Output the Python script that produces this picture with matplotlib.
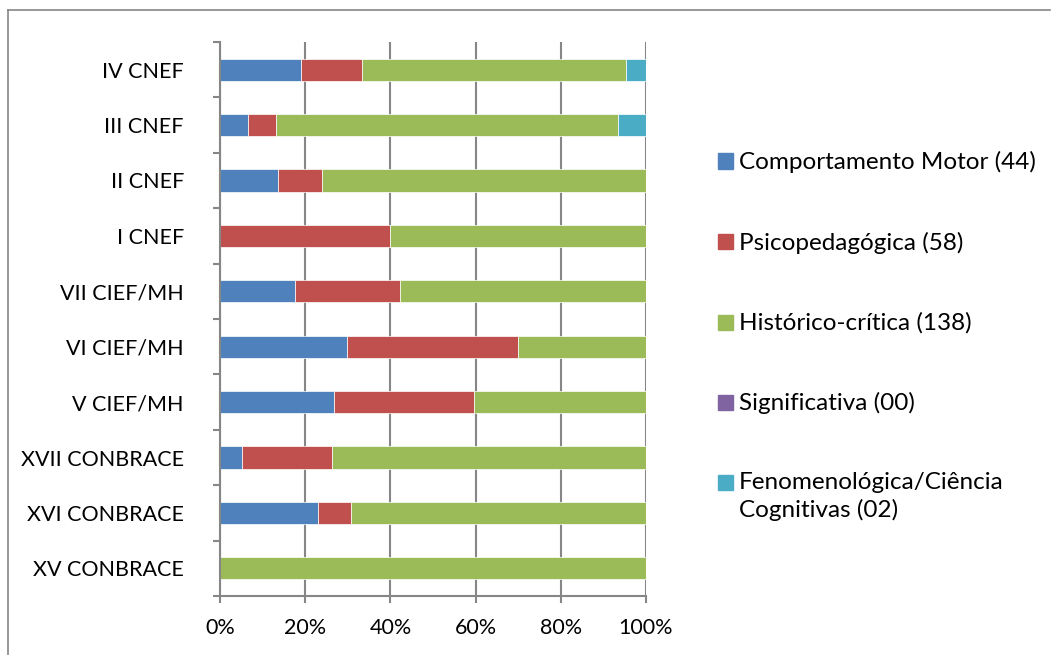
import matplotlib.pyplot as plt
from matplotlib.patches import Rectangle
from matplotlib.lines import Line2D
import numpy as np

plt.rcParams['font.family'] = ['Lato', 'DejaVu Sans']

# ── DATA (percent of works per event) ─────────────────────────────────────────
EVENTS = ['XV CONBRACE', 'XVI CONBRACE', 'XVII CONBRACE', 'V CIEF/MH',
          'VI CIEF/MH', 'VII CIEF/MH', 'I CNEF', 'II CNEF', 'III CNEF', 'IV CNEF']
MOTOR = [0.0, 23.0, 5.1, 26.8, 29.8, 17.7, 0.0, 13.7, 6.5, 18.9]
PSICO = [0.0, 7.7, 21.1, 32.8, 40.2, 24.5, 40.0, 10.3, 6.6, 14.4]
HIST = [100.0, 69.3, 73.8, 40.4, 30.0, 57.8, 60.0, 76.0, 80.3, 62.0]
SIGNIF = [0.0] * 10
FENOM = [0.0, 0.0, 0.0, 0.0, 0.0, 0.0, 0.0, 0.0, 6.6, 4.7]

SERIES = [
    ('Comportamento Motor (44)', MOTOR, '#4F81BD'),
    ('Psicopedagógica (58)', PSICO, '#C0504D'),
    ('Histórico-crítica (138)', HIST, '#9BBB59'),
    ('Significativa (00)', SIGNIF, '#8064A2'),
    ('Fenomenológica/Ciência\nCognitivas (02)', FENOM, '#4BACC6'),
]
XTICKS = [0, 20, 40, 60, 80, 100]
# ─────────────────────────────────────────────────────────────────────────────

W, H = 1057, 655
GRAY = '#868686'
fig = plt.figure(figsize=(W / 100, H / 100), dpi=100)
ax = fig.add_axes([220 / W, 1 - 596 / H, 426 / W, 554 / H])

y = np.arange(len(EVENTS))
left = np.zeros(len(EVENTS))
for label, vals, color in SERIES:
    vals = np.array(vals)
    ax.barh(y, vals, left=left, height=0.4, color=color,
            edgecolor='white', linewidth=0.5, label=label)
    left += vals

ax.set_xlim(0, 100)
ax.set_ylim(-0.5, len(EVENTS) - 0.5)
ax.set_xticks(XTICKS)
ax.set_xticklabels([f'{v}%' for v in XTICKS], fontsize=15.5)
ax.set_yticks(y)
ax.set_yticklabels(EVENTS, fontsize=15.5)
ax.set_yticks(np.arange(len(EVENTS) + 1) - 0.5, minor=True)
ax.tick_params(axis='y', which='major', length=0, pad=26)
ax.tick_params(axis='y', which='minor', length=5, color=GRAY, width=1.5)
ax.tick_params(axis='x', length=5, color=GRAY, width=1.5, pad=11)

ax.grid(axis='x', color=GRAY, linewidth=1.5)
ax.set_axisbelow(True)
for s in ['top', 'right']:
    ax.spines[s].set_visible(False)
for s in ['left', 'bottom']:
    ax.spines[s].set_color(GRAY)
    ax.spines[s].set_linewidth(1.5)

# legend drawn by hand: square + text, one row every ~80 px
leg_y = [161, 242, 322, 402, 482]
for (label, _, color), yy in zip(SERIES, leg_y):
    fig.patches.append(Rectangle((718 / W, 1 - (yy + 7.5) / H), 15 / W, 15 / H,
                                 transform=fig.transFigure, color=color))
    fig.text(739 / W, 1 - (yy - 10) / H, label, fontsize=17.5, va='top',
             ha='left', linespacing=1.3)

# outer chart border (top and left edges visible)
fig.add_artist(Line2D([8 / W, 8 / W], [0, 1 - 10 / H], transform=fig.transFigure,
                      color=GRAY, linewidth=1.2))
fig.add_artist(Line2D([8 / W, 1050 / W], [1 - 10 / H, 1 - 10 / H],
                      transform=fig.transFigure, color=GRAY, linewidth=1.2))

fig.savefig('out.png', dpi=100)
